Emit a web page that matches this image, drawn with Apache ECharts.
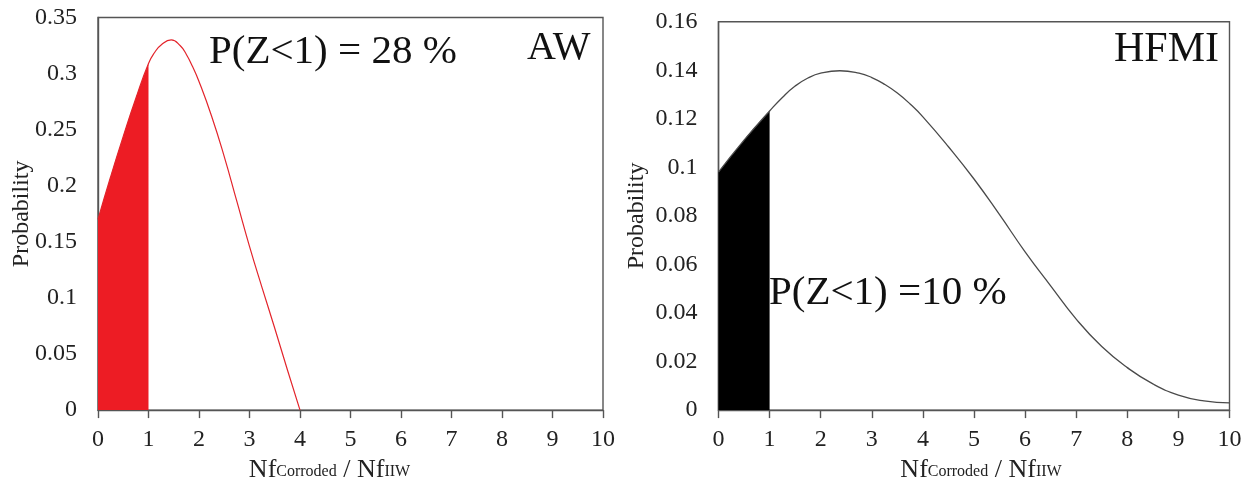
<!DOCTYPE html>
<html>
<head>
<meta charset="utf-8">
<script src="https://cdn.jsdelivr.net/npm/echarts@6/dist/echarts.min.js"></script>
<style>
  html, body { margin: 0; padding: 0; background: #fff; }
  #chart { width: 1259px; height: 488px; }
</style>
</head>
<body>
<div id="chart"></div>
<script>
// AW (as-welded) probability density of the life ratio
var awX = [0, 0.25, 0.5, 0.75, 1, 1.125, 1.25, 1.45, 1.625, 1.75, 1.875, 2, 2.25, 2.5, 2.75, 3, 3.25, 3.5, 3.75, 4];
var awP = [0.170, 0.208, 0.244, 0.278, 0.309, 0.319, 0.3255, 0.330, 0.325, 0.317, 0.306, 0.293, 0.262, 0.226, 0.186, 0.146, 0.109, 0.073, 0.036, 0];

// HFMI treated probability density of the life ratio
var hfX = [0, 0.5, 1, 1.25, 1.5, 1.75, 2, 2.375, 2.75, 3, 3.25, 3.5, 3.75, 4, 4.5, 5, 5.5, 6, 6.5, 7, 7.5, 8, 8.5, 9, 9.5, 10];
var hfP = [0.098, 0.1112, 0.1232, 0.1288, 0.1335, 0.1368, 0.1388, 0.1398, 0.1388, 0.1370, 0.1342, 0.1306, 0.1261, 0.1208, 0.1085, 0.0952, 0.0805, 0.0652, 0.0512, 0.0375, 0.0262, 0.0175, 0.0108, 0.0062, 0.0038, 0.0030];

// shaded region Z < 1
var failLimit = 1;

var xTicks = [0, 1, 2, 3, 4, 5, 6, 7, 8, 9, 10];
var awYTicks = [0, 0.05, 0.1, 0.15, 0.2, 0.25, 0.3, 0.35];
var hfYTicks = [0, 0.02, 0.04, 0.06, 0.08, 0.1, 0.12, 0.14, 0.16];

var awLabel = 'P(Z<1) = 28 %';
var hfLabel = 'P(Z<1) =10 %';

function pairs(xs, ys) {
  return xs.map(function (x, i) { return [x, ys[i]]; });
}
function below(xs, ys, lim) {
  return pairs(xs, ys).filter(function (p) { return p[0] <= lim; });
}

var serif = '"Liberation Serif", "DejaVu Serif", serif';
var frame = '#555';

function xAxisOf(gridIndex, pad) {
  return {
    type: 'value', gridIndex: gridIndex,
    min: xTicks[0], max: xTicks[xTicks.length - 1], interval: 1,
    name: '{a|Nf}{b|Corroded}{a| / Nf}{b|IIW}',
    nameLocation: 'middle', nameGap: 45,
    nameTextStyle: {
      padding: pad,
      rich: {
        a: { fontFamily: serif, fontSize: 26, color: '#222', verticalAlign: 'bottom', lineHeight: 26 },
        b: { fontFamily: serif, fontSize: 16, color: '#222', verticalAlign: 'bottom', lineHeight: 16, padding: [0, 0, 3, 0] }
      }
    },
    axisLine: { show: true, onZero: false, lineStyle: { color: frame, width: 1.4 } },
    axisTick: { show: true, inside: false, length: 8, lineStyle: { color: frame, width: 1.4 } },
    axisLabel: { fontFamily: serif, fontSize: 24, color: '#222', margin: 18 },
    splitLine: { show: false }
  };
}

function yAxisOf(gridIndex, ticks, nameGap) {
  return {
    type: 'value', gridIndex: gridIndex,
    min: 0, max: ticks[ticks.length - 1], interval: ticks[1] - ticks[0],
    name: 'Probability', nameLocation: 'middle', nameGap: nameGap,
    nameMoveOverlap: false,
    nameTextStyle: { fontFamily: serif, fontSize: 24, color: '#222' },
    axisLine: { show: true, onZero: false, lineStyle: { color: frame, width: 1.4 } },
    axisTick: { show: false },
    axisLabel: { fontFamily: serif, fontSize: 24, color: '#222', margin: 21 },
    splitLine: { show: false }
  };
}

var chart = echarts.init(document.getElementById('chart'), null, { renderer: 'canvas' });

chart.setOption({
  backgroundColor: '#fff',
  animation: false,
  grid: [
    { left: 98, top: 17.5, width: 505, height: 397, show: true, borderColor: frame, borderWidth: 1.4, backgroundColor: 'transparent' },
    { left: 718.5, top: 21.7, width: 511, height: 396.5, show: true, borderColor: frame, borderWidth: 1.4, backgroundColor: 'transparent' }
  ],
  xAxis: [xAxisOf(0, [0, 42, 0, 0]), xAxisOf(1, [0, 0, 0, 14])],
  yAxis: [yAxisOf(0, awYTicks, 64), yAxisOf(1, hfYTicks, 70)],
  series: [
    {
      type: 'line', xAxisIndex: 0, yAxisIndex: 0,
      data: below(awX, awP, failLimit),
      smooth: 0.5, showSymbol: false,
      lineStyle: { width: 0 },
      areaStyle: { color: '#ED1C24', opacity: 1 },
      z: 2
    },
    {
      type: 'line', xAxisIndex: 0, yAxisIndex: 0,
      data: pairs(awX, awP),
      smooth: 0.5, showSymbol: false,
      lineStyle: { color: '#E3242B', width: 1.2 },
      z: 3
    },
    {
      type: 'line', xAxisIndex: 1, yAxisIndex: 1,
      data: below(hfX, hfP, failLimit),
      smooth: 0.5, showSymbol: false,
      lineStyle: { width: 0 },
      areaStyle: { color: '#000', opacity: 1 },
      z: 2
    },
    {
      type: 'line', xAxisIndex: 1, yAxisIndex: 1,
      data: pairs(hfX, hfP),
      smooth: 0.5, showSymbol: false,
      lineStyle: { color: '#4a4a4a', width: 1.3 },
      z: 3
    }
  ],
  graphic: [
    { type: 'text', left: 209, top: 32, style: { text: awLabel, font: '41px ' + serif, fill: '#111' } },
    { type: 'text', left: 527, top: 28, style: { text: 'AW', font: '40px ' + serif, fill: '#111' } },
    { type: 'text', left: 1114, top: 29, style: { text: 'HFMI', font: '42px ' + serif, fill: '#111' } },
    { type: 'text', left: 769, top: 273, style: { text: hfLabel, font: '41px ' + serif, fill: '#111' } }
  ]
});
</script>
</body>
</html>
